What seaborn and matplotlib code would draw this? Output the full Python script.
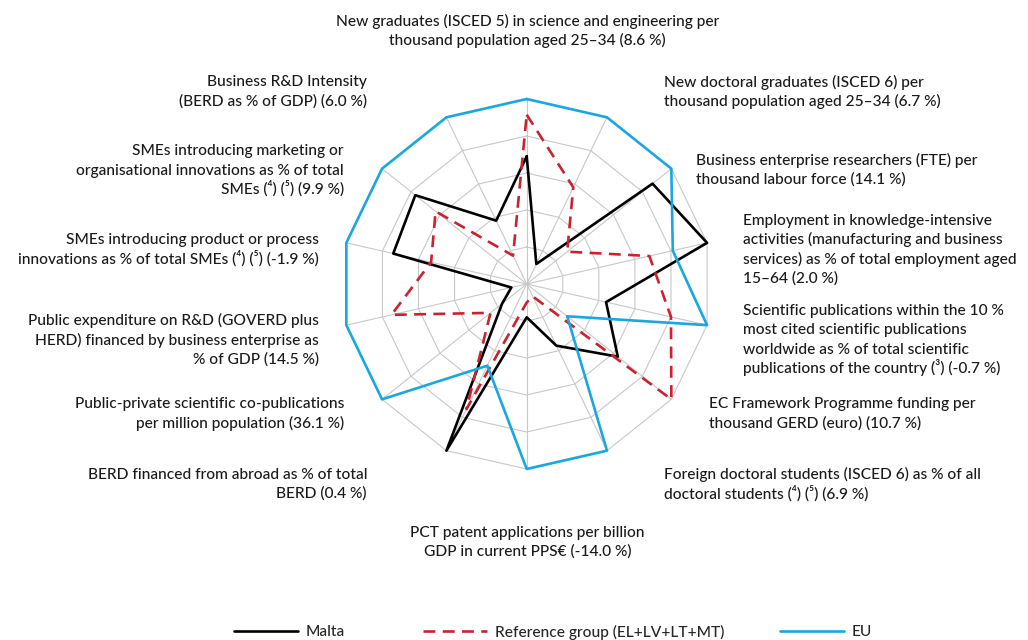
import numpy as np
import pandas as pd
import matplotlib
matplotlib.use("Agg")
import matplotlib.pyplot as plt
import seaborn as sns

# indicator labels, clockwise from the top
labels = [
    "New graduates (ISCED 5) in science and engineering per\nthousand population aged 25\u201334 (8.6 %)",
    "New doctoral graduates (ISCED 6) per\nthousand population aged 25\u201334 (6.7 %)",
    "Business enterprise researchers (FTE) per\nthousand labour force (14.1 %)",
    "Employment in knowledge-intensive\nactivities (manufacturing and business\nservices) as % of total employment aged\n15\u201364 (2.0 %)",
    "Scientific publications within the 10 %\nmost cited scientific publications\nworldwide as % of total scientific\npublications of the country (\u00b3) (-0.7 %)",
    "EC Framework Programme funding per\nthousand GERD (euro) (10.7 %)",
    "Foreign doctoral students (ISCED 6) as % of all\ndoctoral students (\u2074) (\u2075) (6.9 %)",
    "PCT patent applications per billion\nGDP in current PPS\u20ac (-14.0 %)",
    "BERD financed from abroad as % of total\nBERD (0.4 %)",
    "Public-private scientific co-publications\nper million population (36.1 %)",
    "Public expenditure on R&D (GOVERD plus\nHERD) financed by business enterprise as\n% of GDP (14.5 %)",
    "SMEs introducing product or process\ninnovations as % of total SMEs (\u2074) (\u2075) (-1.9 %)",
    "SMEs introducing marketing or\norganisational innovations as % of total\nSMEs (\u2074) (\u2075) (9.9 %)",
    "Business R&D Intensity\n(BERD as % of GDP) (6.0 %)",
]

# normalised scores
malta = [0.69, 0.12, 0.87, 1.0, 0.44, 0.63, 0.37, 0.18, 1.0, 0.17, 0.085, 0.74, 0.77, 0.38]
reference = [0.915, 0.58, 0.28, 0.68, 0.80, 1.0, 0.074, 0.10, 0.75, 0.25, 0.75, 0.53, 0.63, 0.17]
eu = [1.0, 1.0, 1.0, 0.81, 1.0, 0.28, 1.0, 1.0, 0.49, 1.0, 1.0, 1.0, 1.0, 1.0]

series_names = ["Malta", "Reference group (EL+LV+LT+MT)", "EU"]
ring_levels = [0.2, 0.4, 0.6, 0.8, 1.0]

# label placement in pixels (x, y of block centre, alignment)
label_pos = [
    (527.5, 30, "center"), (664, 91, "left"), (696, 169, "left"),
    (743, 248.5, "left"), (743, 338.5, "left"), (709, 412.5, "left"),
    (664, 483.5, "left"), (527.5, 541, "center"), (367, 483, "right"),
    (344, 412.5, "right"), (319, 339, "right"), (319, 248.5, "right"),
    (344, 169, "right"), (367, 90.5, "right"),
]
legend_x = [234, 423, 780]

W, H = 1028, 640
n = len(labels)
theta = np.arange(n) * 2 * np.pi / n
FS = 11.2
LINE_H = 19.2   # px between label lines
CAP_HALF = 5.5  # px from visual centre of a line down to its baseline

sns.set_style("white")
plt.rcParams["font.family"] = ["Lato", "Noto Sans", "DejaVu Sans"]

# long table, polygons closed by repeating the first point
rows = []
for name, vals in zip(series_names, [malta, reference, eu]):
    for t, v in zip(list(theta) + [theta[0] + 2 * np.pi], vals + vals[:1]):
        rows.append({"series": name, "theta": t, "value": v})
df = pd.DataFrame(rows)

fig = plt.figure(figsize=(W / 100, H / 100), dpi=100)
cx, cy, R = 526.7, 284, 185
ax = fig.add_axes([(cx - R) / W, (H - cy - R) / H, 2 * R / W, 2 * R / H], projection="polar")
ax.set_theta_zero_location("N")
ax.set_theta_direction(-1)
ax.grid(False)
ax.spines["polar"].set_visible(False)
ax.set_facecolor("none")

# polygon grid and spokes
grid_c = "#c8c8c8"
closed = np.append(theta, theta[0])
for r in ring_levels:
    ax.plot(closed, [r] * (n + 1), color=grid_c, lw=0.8, zorder=1)
for t in theta:
    ax.plot([t, t], [0, 1], color=grid_c, lw=0.8, zorder=1)

palette = {series_names[0]: "#000000", series_names[1]: "#c8242f", series_names[2]: "#1aa7e0"}
dashes = {series_names[0]: "", series_names[1]: (4.5, 2.8), series_names[2]: ""}
sns.lineplot(data=df, x="theta", y="value", hue="series", style="series",
             palette=palette, dashes=dashes, sort=False, estimator=None,
             linewidth=1.9, ax=ax, zorder=3)
for ln in ax.get_lines():
    ln.set_clip_on(False)

ax.set_ylim(0, 1)
ax.set_xticks([])
ax.set_yticks([])
ax.set_xlabel("")
ax.set_ylabel("")

# one legend per entry so the uneven spacing of the original can be kept
handles, leg_labels = ax.get_legend_handles_labels()
ax.get_legend().remove()
for h, lab, x0 in zip(handles, leg_labels, legend_x):
    fig.legend([h], [lab], loc="center left", bbox_to_anchor=(x0 / W, 1 - 632 / H),
               frameon=False, prop={"size": FS, "weight": "medium"},
               handlelength=4.1, handletextpad=0.5, borderpad=0, borderaxespad=0)

# axis labels, one text per line so superscripts don't disturb the spacing
for txt, (x, y, ha) in zip(labels, label_pos):
    lines = txt.split("\n")
    y0 = y - (len(lines) - 1) * LINE_H / 2
    for i, line in enumerate(lines):
        yl = y0 + i * LINE_H + CAP_HALF
        fig.text(x / W, 1 - yl / H, line, ha=ha, va="baseline",
                 fontsize=FS, fontweight="medium", color="#1a1a1a")

fig.savefig("out.png", dpi=100)
